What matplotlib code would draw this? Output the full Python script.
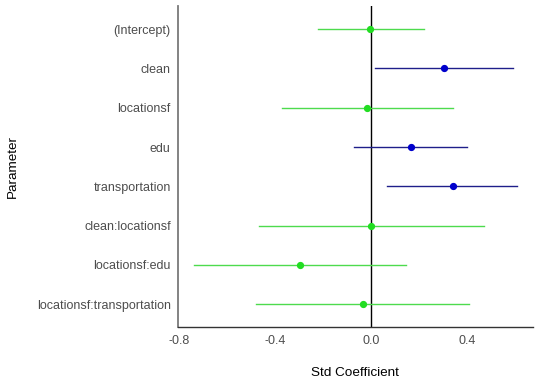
import matplotlib
matplotlib.use("Agg")
import matplotlib.pyplot as plt

params = ["(Intercept)", "clean", "locationsf", "edu", "transportation",
          "clean:locationsf", "locationsf:edu", "locationsf:transportation"]
coef = [-0.004, 0.303, -0.017, 0.165, 0.339, 0.000, -0.297, -0.036]
low = [-0.223, 0.017, -0.373, -0.073, 0.067, -0.469, -0.739, -0.479]
high = [0.220, 0.589, 0.342, 0.397, 0.608, 0.468, 0.143, 0.408]
significant = [False, True, False, True, True, False, False, False]
xticks = [-0.8, -0.4, 0.0, 0.4]
xticklabels = ["-0.8", "-0.4", "0.0", "0.4"]

plt.rcParams['font.family'] = ['Liberation Sans', 'DejaVu Sans']

fig = plt.figure(figsize=(5.4, 3.86), dpi=100)
ax = fig.add_axes([0.329, 0.1536, 0.6575, 0.831])

n = len(params)
ypos = [n - i for i in range(n)]

ax.axvline(0, color='black', lw=1.0, zorder=1)
for y, c, lo, hi, sig in zip(ypos, coef, low, high, significant):
    lc = '#1f1f8a' if sig else '#4ddb4d'
    pc = '#0000cc' if sig else '#22dd22'
    ax.plot([lo, hi], [y, y], color=lc, lw=1.0, zorder=2)
    ax.plot([c], [y], 'o', color=pc, ms=4.2, zorder=3)

ax.set_xlim(-0.807, 0.672)
ax.set_ylim(0.43, 8.59)
ax.set_yticks(ypos)
ax.set_yticklabels(params)
ax.set_xticks(xticks)
ax.set_xticklabels(xticklabels)
ax.tick_params(axis='both', length=0, labelsize=9.0, labelcolor='#4d4d4d')
ax.tick_params(axis='y', pad=5)
ax.tick_params(axis='x', pad=6)

for s in ['top', 'right']:
    ax.spines[s].set_visible(False)
ax.spines['left'].set_color('#7a7a7a')
ax.spines['left'].set_linewidth(1.3)
ax.spines['bottom'].set_color('#333333')
ax.spines['bottom'].set_linewidth(1.0)

ax.set_xlabel("Std Coefficient", fontsize=9.7, color='black')
ax.set_ylabel("Parameter", fontsize=9.7, color='black')
ax.yaxis.set_label_coords(-0.464, 0.5)
ax.xaxis.set_label_coords(0.5, -0.145)
ax.xaxis.label.set_va('center')
ax.yaxis.label.set_va('center')

fig.savefig("out.png", dpi=100)
